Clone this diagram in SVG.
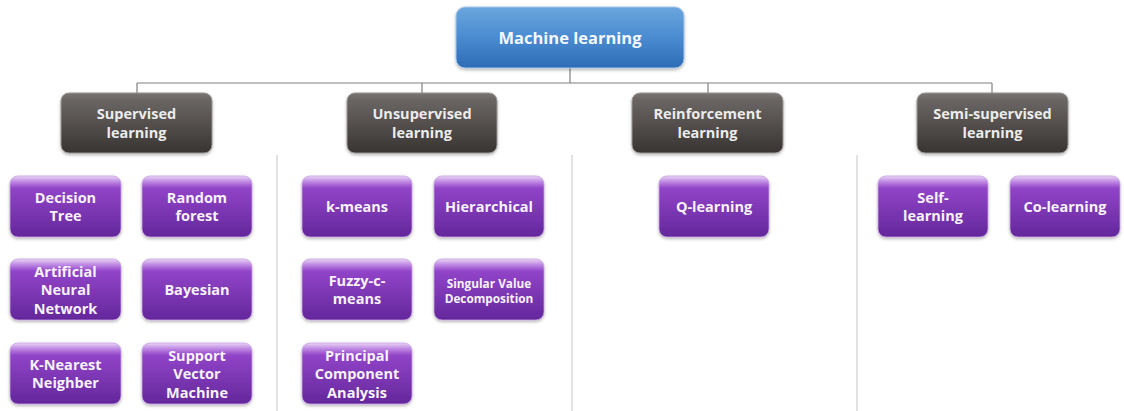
<svg xmlns="http://www.w3.org/2000/svg" width="1124" height="411" viewBox="0 0 1124 411">
  <defs>
    <linearGradient id="gBlue" x1="0" y1="0" x2="0" y2="1">
      <stop offset="0" stop-color="#6aa6de"/>
      <stop offset="0.5" stop-color="#4a8bd0"/>
      <stop offset="1" stop-color="#2d6cb6"/>
    </linearGradient>
    <linearGradient id="gGray" x1="0" y1="0" x2="0" y2="1">
      <stop offset="0" stop-color="#7a7472"/>
      <stop offset="0.12" stop-color="#6a6563"/>
      <stop offset="1" stop-color="#383432"/>
    </linearGradient>
    <linearGradient id="gPurple" x1="0" y1="0" x2="0" y2="1">
      <stop offset="0" stop-color="#ead3f5"/>
      <stop offset="0.1" stop-color="#bb84e2"/>
      <stop offset="0.2" stop-color="#9144c8"/>
      <stop offset="1" stop-color="#63279b"/>
    </linearGradient>
    <filter id="shadow" x="-10%" y="-10%" width="120%" height="130%">
      <feDropShadow dx="0" dy="1.5" stdDeviation="1.5" flood-color="#000" flood-opacity="0.3"/>
    </filter>
  </defs>
  <style>
    .root { fill: url(#gBlue); stroke: #a9c6e6; stroke-width: 1; filter: url(#shadow); }
    .cat { fill: url(#gGray); stroke: #9a9694; stroke-width: 1; filter: url(#shadow); }
    .leaf { fill: url(#gPurple); stroke: #c9a2e4; stroke-width: 0.8; filter: url(#shadow); }
    text { font-family: "Open Sans", "Liberation Sans", sans-serif; font-weight: 700; text-anchor: middle; }
    .t-root { font-size: 16.5px; fill: #f4f8fc; }
    .t-cat { font-size: 14.5px; fill: #ececec; }
    .t-leaf { font-size: 14.5px; fill: #f7f2fb; }
    .t-small { font-size: 11.8px; fill: #f7f2fb; }
    .link { stroke: #808080; stroke-width: 1.2; fill: none; }
    .sep { stroke: #c4c4c4; stroke-width: 1; fill: none; }
  </style>

  <!-- tree connectors and column separators -->
  <g id="connectors">
    <path class="link" d="M570 68 V83 M137 83 H992 M137 83 V93 M422 83 V93 M708 83 V93 M992 83 V93"/>
    <path class="sep" d="M277 155 V411 M572 155 V411 M857 155 V411"/>
  </g>

  <!-- root -->
  <g id="machine-learning">
    <rect class="root" x="456" y="7" width="228" height="61" rx="9"/>
    <text class="t-root" x="570" y="44">Machine learning</text>
  </g>

  <!-- categories -->
  <g id="supervised">
    <rect class="cat" x="61" y="93" width="151" height="60" rx="8"/>
    <text class="t-cat" x="136.5" y="119">Supervised</text>
    <text class="t-cat" x="136.5" y="138">learning</text>
  </g>
  <g id="unsupervised">
    <rect class="cat" x="347" y="93" width="150" height="60" rx="8"/>
    <text class="t-cat" x="422" y="119">Unsupervised</text>
    <text class="t-cat" x="422" y="138">learning</text>
  </g>
  <g id="reinforcement">
    <rect class="cat" x="632" y="93" width="151" height="60" rx="8"/>
    <text class="t-cat" x="707.5" y="119">Reinforcement</text>
    <text class="t-cat" x="707.5" y="138">learning</text>
  </g>
  <g id="semi-supervised">
    <rect class="cat" x="917" y="93" width="151" height="60" rx="8"/>
    <text class="t-cat" x="992.5" y="119">Semi-supervised</text>
    <text class="t-cat" x="992.5" y="138">learning</text>
  </g>

  <!-- supervised methods -->
  <g id="decision-tree">
    <rect class="leaf" x="10" y="176" width="111" height="61" rx="8"/>
    <text class="t-leaf" x="65.5" y="203">Decision</text>
    <text class="t-leaf" x="65.5" y="221">Tree</text>
  </g>
  <g id="random-forest">
    <rect class="leaf" x="142" y="176" width="110" height="61" rx="8"/>
    <text class="t-leaf" x="197" y="203">Random</text>
    <text class="t-leaf" x="197" y="221">forest</text>
  </g>
  <g id="ann">
    <rect class="leaf" x="10" y="259" width="111" height="61" rx="8"/>
    <text class="t-leaf" x="65.5" y="277">Artificial</text>
    <text class="t-leaf" x="65.5" y="295">Neural</text>
    <text class="t-leaf" x="65.5" y="314">Network</text>
  </g>
  <g id="bayesian">
    <rect class="leaf" x="142" y="259" width="110" height="61" rx="8"/>
    <text class="t-leaf" x="197" y="295">Bayesian</text>
  </g>
  <g id="knn">
    <rect class="leaf" x="10" y="343" width="111" height="61" rx="8"/>
    <text class="t-leaf" x="65.5" y="370">K-Nearest</text>
    <text class="t-leaf" x="65.5" y="388">Neighber</text>
  </g>
  <g id="svm">
    <rect class="leaf" x="142" y="343" width="110" height="61" rx="8"/>
    <text class="t-leaf" x="197" y="361">Support</text>
    <text class="t-leaf" x="197" y="379">Vector</text>
    <text class="t-leaf" x="197" y="398">Machine</text>
  </g>

  <!-- unsupervised methods -->
  <g id="k-means">
    <rect class="leaf" x="302" y="176" width="110" height="61" rx="8"/>
    <text class="t-leaf" x="357" y="212">k-means</text>
  </g>
  <g id="hierarchical">
    <rect class="leaf" x="434" y="176" width="110" height="61" rx="8"/>
    <text class="t-leaf" x="489" y="212">Hierarchical</text>
  </g>
  <g id="fuzzy-c-means">
    <rect class="leaf" x="302" y="259" width="110" height="61" rx="8"/>
    <text class="t-leaf" x="357" y="286">Fuzzy-c-</text>
    <text class="t-leaf" x="357" y="304">means</text>
  </g>
  <g id="svd">
    <rect class="leaf" x="434" y="259" width="110" height="61" rx="8"/>
    <text class="t-small" x="489" y="288">Singular Value</text>
    <text class="t-small" x="489" y="303">Decomposition</text>
  </g>
  <g id="pca">
    <rect class="leaf" x="302" y="343" width="110" height="61" rx="8"/>
    <text class="t-leaf" x="357" y="361">Principal</text>
    <text class="t-leaf" x="357" y="379">Component</text>
    <text class="t-leaf" x="357" y="398">Analysis</text>
  </g>

  <!-- reinforcement methods -->
  <g id="q-learning">
    <rect class="leaf" x="659" y="176" width="110" height="61" rx="8"/>
    <text class="t-leaf" x="714" y="212">Q-learning</text>
  </g>

  <!-- semi-supervised methods -->
  <g id="self-learning">
    <rect class="leaf" x="878" y="176" width="110" height="61" rx="8"/>
    <text class="t-leaf" x="933" y="203">Self-</text>
    <text class="t-leaf" x="933" y="221">learning</text>
  </g>
  <g id="co-learning">
    <rect class="leaf" x="1010" y="176" width="110" height="61" rx="8"/>
    <text class="t-leaf" x="1065" y="212">Co-learning</text>
  </g>
</svg>
